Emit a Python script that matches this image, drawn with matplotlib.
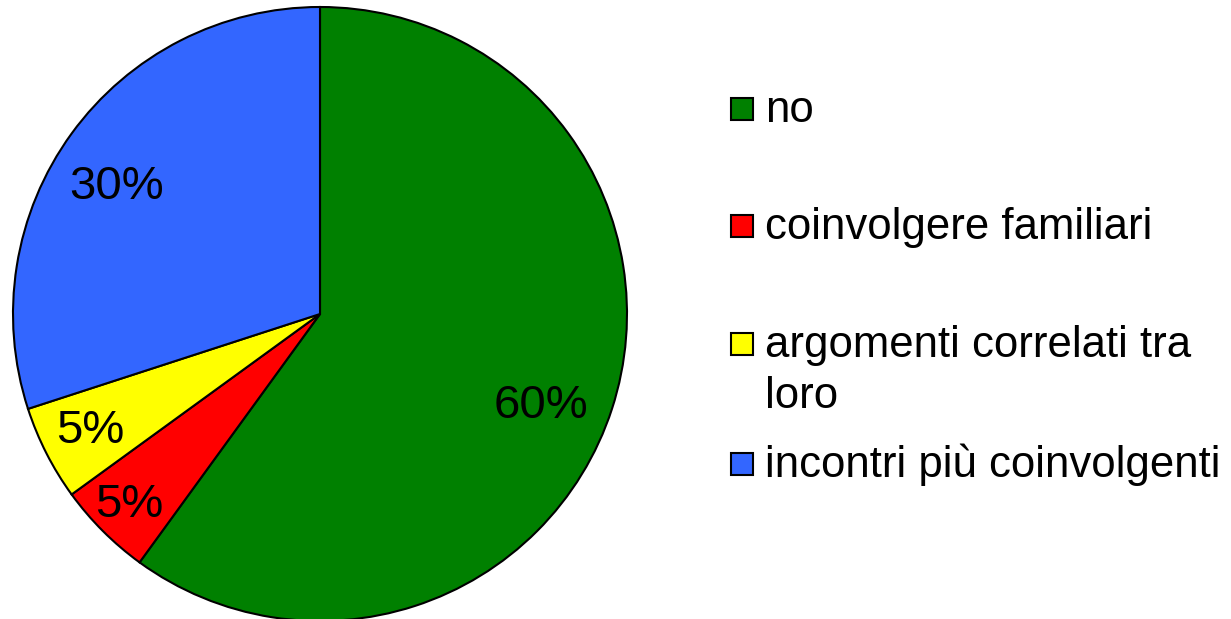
import numpy as np
import matplotlib
matplotlib.use("Agg")
import matplotlib.pyplot as plt
from matplotlib.patches import Rectangle

categories = ["no", "coinvolgere familiari", "argomenti correlati tra\nloro", "incontri più coinvolgenti"]
values = [60, 5, 5, 30]
colors = ["#008000", "#FF0000", "#FFFF00", "#3366FF"]

plt.rcParams['font.family'] = ['Liberation Sans', 'DejaVu Sans']

W, H = 1231, 619
fig = plt.figure(figsize=(W / 100, H / 100), dpi=100)
cx, cy, r = 320, 314, 307
ax = fig.add_axes([(cx - r) / W, (H - cy - r) / H, 2 * r / W, 2 * r / H])
wedges, texts, autotexts = ax.pie(values, colors=colors, startangle=90, counterclock=False,
                                  autopct=lambda p: f"{p:.0f}%", pctdistance=0.8,
                                  wedgeprops=dict(edgecolor="black", linewidth=1.5),
                                  textprops=dict(fontsize=34, color="black"))
ax.set_xlim(-1, 1)
ax.set_ylim(-1, 1)
ax.set_aspect("equal")
ax.axis("off")

dists = [0.78, 0.88, 0.84, 0.78]
offs = [-4.5, 0, 0, 4]
for w, t, d, o in zip(wedges, autotexts, dists, offs):
    ang = np.deg2rad((w.theta1 + w.theta2) / 2 + o)
    t.set_position((d * np.cos(ang), d * np.sin(ang)))
    t.set_ha("center")
    t.set_va("center")

baselines = [122, 239, 357, 477]
for cat, col, b in zip(categories, colors, baselines):
    lines = cat.split("\n")
    yc = b - 13
    fig.add_artist(Rectangle((731 / W, 1 - (yc + 11) / H), 22 / W, 22 / H,
                             transform=fig.transFigure, facecolor=col,
                             edgecolor="black", linewidth=1.5))
    for k, ln in enumerate(lines):
        fig.text(765 / W, 1 - (b + 51 * k) / H, ln, fontsize=31.5, ha="left", va="baseline")

fig.savefig("out.png", dpi=100)
